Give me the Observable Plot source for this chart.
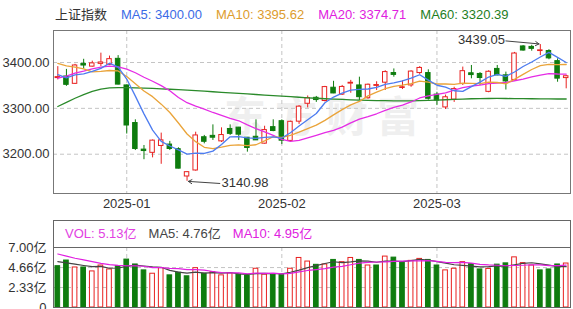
<!DOCTYPE html>
<html><head><meta charset="utf-8">
<script src="https://cdn.jsdelivr.net/npm/d3@7"></script>
<script src="https://cdn.jsdelivr.net/npm/@observablehq/plot@0.6"></script>
<style>
body{margin:0;background:#fff;font-family:"Liberation Sans",Arial,"Noto Sans CJK SC",sans-serif;}
#wrap{position:relative;width:573px;height:309px;overflow:hidden;background:#fff;}
#main{position:absolute;left:0;top:0;}
#vol{position:absolute;left:0;top:215px;}
#hdr{position:absolute;left:55px;top:7px;font-size:13px;line-height:16px;white-space:nowrap;}
#hdr span{margin-right:14px;}
#volbox{position:absolute;left:53px;top:220px;width:518px;height:28px;box-sizing:border-box;border:1px solid #666;font-size:13px;line-height:25px;padding-left:11px;white-space:nowrap;}
#volbox span{margin-right:12px;}
.wm text{letter-spacing:9px;}
</style></head>
<body><div id="wrap"><div id="main"></div><div id="vol"></div><div id="hdr"></div><div id="volbox"></div></div>
<script>
// ---- data ----
const indexName = "上证指数";
const dates = ["2024-12-20","2024-12-23","2024-12-24","2024-12-25","2024-12-26","2024-12-27","2024-12-30","2024-12-31",
"2025-01-02","2025-01-03","2025-01-06","2025-01-07","2025-01-08","2025-01-09","2025-01-10","2025-01-13","2025-01-14","2025-01-15","2025-01-16","2025-01-17","2025-01-20","2025-01-21","2025-01-22","2025-01-23","2025-01-24","2025-01-27",
"2025-02-05","2025-02-06","2025-02-07","2025-02-10","2025-02-11","2025-02-12","2025-02-13","2025-02-14","2025-02-17","2025-02-18","2025-02-19","2025-02-20","2025-02-21","2025-02-24","2025-02-25","2025-02-26","2025-02-27","2025-02-28",
"2025-03-03","2025-03-04","2025-03-05","2025-03-06","2025-03-07","2025-03-10","2025-03-11","2025-03-12","2025-03-13","2025-03-14","2025-03-17","2025-03-18","2025-03-19","2025-03-20","2025-03-21","2025-03-24"];
const open = [3366,3369.5,3353.5,3397,3391,3397,3395,3408,3350,3268,
3210,3203,3218,3221,3211,3151.4,3164.5,3237,3240,3228,
3255,3258,3236,3238,3223,3259,3272,3229,3271,3310,
3323,3316,3345,3330,3354,3350,3322,3349,3356,3377,
3344.5,3350,3377,3377,3330,3302,3319,3353,3376.5,3375,
3336,3386,3372,3362,3435,3434,3425,3425,3403,3366];
const high = [3391,3385,3396,3407,3403,3420.4,3414,3415,3351,3275,
3219,3231,3246,3228,3214,3162,3248,3241,3264,3257.5,
3264,3258.5,3236.5,3275,3261,3275,3275,3272,3306,3327,
3326,3348,3359,3350,3361,3368,3353,3358,3382,3386,
3360,3382,3391,3384,3335,3329,3346,3390,3393.5,3378,
3382,3393.5,3379,3422,3437,3437.5,3439.05,3428,3408,3372];
const low = [3362,3348,3352,3386,3390,3391,3394,3351,3244,3208,
3188,3192,3178,3208,3168,3140.98,3163,3222.6,3230,3225.5,
3241,3230,3204.5,3230,3222,3249,3221,3226,3265,3301,
3313,3314,3332,3328,3333,3317,3320,3339,3339,3368,
3341,3346,3374,3318,3306,3297.5,3313,3350,3364.4,3350,
3334,3371,3340,3360,3424.7,3424.7,3415,3406,3357,3342.6];
const close = [3368.1,3351.3,3393.5,3393.4,3398.1,3400.1,3407.3,3351.8,3262.6,3211.4,
3206.9,3229.6,3230.2,3211.4,3168.5,3160.8,3240.9,3227.1,3236.0,3241.8,
3244.4,3242.6,3213.6,3230.2,3252.6,3250.6,3229.5,3270.7,3303.7,3322.2,
3318.1,3346.4,3332.5,3346.7,3355.8,3324.5,3351.5,3350.8,3379.1,3373.0,
3346.0,3380.2,3388.1,3320.9,3316.9,3324.2,3342.0,3381.1,3372.6,3366.2,
3379.8,3371.9,3358.7,3419.6,3426.1,3429.8,3426.4,3409.0,3364.8,3370.0];
const prevClose = 3370.03;
const ma5 = [3373.6,3366.6,3373.0,3375.2,3380.9,3387.3,3398.5,3390.1,3364.0,3326.6,
3288.0,3252.5,3228.1,3217.9,3209.3,3200.1,3202.4,3201.7,3206.7,3221.3,
3238.0,3238.4,3235.7,3234.5,3236.7,3237.9,3235.3,3246.7,3261.4,3275.3,
3288.8,3312.2,3324.6,3333.2,3339.9,3341.2,3342.2,3345.9,3352.3,3355.8,
3360.1,3365.8,3373.3,3361.6,3350.4,3346.1,3338.4,3337.0,3347.4,3357.2,
3368.3,3374.3,3369.8,3379.2,3391.2,3401.2,3412.1,3422.2,3411.2,3400.0];
const ma10 = [3397.9,3392.8,3389.9,3386.0,3379.6,3380.5,3382.6,3381.6,3369.6,3353.8,
3337.7,3325.5,3309.2,3291.0,3268.0,3244.1,3227.4,3215.0,3212.3,3215.3,
3219.1,3220.4,3218.7,3220.6,3229.0,3238.0,3236.9,3241.2,3248.0,3256.0,
3263.4,3273.8,3285.7,3297.3,3307.6,3315.0,3327.2,3335.2,3342.8,3347.9,
3350.6,3354.0,3359.6,3357.0,3353.1,3353.1,3352.1,3355.2,3354.5,3353.8,
3357.2,3356.4,3353.4,3363.3,3374.2,3384.8,3393.2,3396.0,3395.2,3395.6];
const ma20 = [3365.8,3370.1,3376.8,3381.0,3386.1,3389.8,3392.0,3390.6,3385.5,3377.6,
3367.8,3359.1,3349.5,3338.5,3323.8,3312.3,3305.0,3298.3,3291.0,3284.5,
3278.4,3272.9,3263.9,3255.8,3248.5,3241.0,3232.1,3228.1,3230.1,3235.7,
3241.2,3247.1,3252.2,3259.0,3268.3,3276.5,3282.0,3288.2,3295.4,3301.9,
3307.0,3313.9,3322.6,3327.2,3330.4,3334.0,3339.7,3345.2,3348.6,3350.8,
3353.9,3355.2,3356.5,3360.2,3363.7,3368.9,3372.7,3375.6,3374.9,3374.7];
const ma60 = [3304,3313,3322,3330,3337,3342,3344.5,3345.3,3345.2,3344.8,
3344.2,3343.5,3342.6,3341.7,3340.7,3339.7,3338.6,3337.4,3336.2,3335,
3333.8,3332.6,3331.4,3330.2,3329,3327.8,3326.6,3325.4,3324.2,3323,
3322,3321,3320.2,3319.4,3318.7,3318,3317.5,3317,3316.7,3316.5,
3316.4,3316.5,3316.8,3317.3,3318,3318.8,3319.6,3320.3,3320.9,3321.3,
3321.5,3321.6,3321.5,3321.3,3321.1,3320.9,3320.7,3320.5,3320.4,3320.4];
const volume = [4.82,5.48,4.67,4.67,4.21,4.90,4.44,4.82,5.59,5.02,
4.33,3.94,4.59,3.75,4.06,3.64,4.59,3.94,4.13,3.75,
3.98,3.83,3.68,4.52,3.83,3.83,3.83,4.52,5.78,5.36,
4.98,5.02,5.55,5.29,5.78,5.55,4.90,4.90,5.94,5.82,
5.21,5.44,5.67,5.55,4.90,4.33,4.52,5.29,5.06,4.44,
4.50,5.00,5.15,5.85,5.18,4.90,4.33,4.44,5.02,5.13];
const volMa5 = [5.36,5.20,5.05,4.90,4.77,4.79,4.58,4.61,4.79,4.95,
4.84,4.74,4.69,4.33,4.13,4.00,4.13,4.00,4.07,4.01,
4.08,3.93,3.87,3.95,3.97,3.94,3.94,4.11,4.36,4.66,
4.89,5.13,5.34,5.24,5.32,5.44,5.41,5.28,5.41,5.42,
5.35,5.46,5.62,5.54,5.35,5.18,4.99,4.92,4.82,4.73,
4.76,4.86,4.83,4.99,5.14,5.22,5.08,4.94,4.77,4.76];
const volMa10 = [6.24,6.00,5.75,5.55,5.35,5.15,5.00,4.92,4.87,4.86,
4.81,4.66,4.65,4.56,4.54,4.42,4.43,4.35,4.20,4.07,
4.04,4.03,3.94,4.01,3.99,4.01,3.93,3.99,4.16,4.32,
4.42,4.54,4.72,4.80,4.99,5.17,5.27,5.31,5.33,5.37,
5.40,5.44,5.45,5.48,5.39,5.27,5.23,5.27,5.18,5.04,
4.97,4.93,4.87,4.90,4.93,4.99,4.97,4.89,4.88,4.95];
const priceTicks = [3200, 3300, 3400];
const volTicks = [0, 2.33, 4.66, 7.00];
const legendNames = ["MA5", "MA10", "MA20", "MA60"];
const legendValues = ["3400.00", "3395.62", "3374.71", "3320.39"];
const volLegendNames = ["VOL", "MA5", "MA10"];
const volLegendValues = ["5.13亿", "4.76亿", "4.95亿"];
const watermark = "东方财富";

// ---- styling ----
const RED = "#e8201f", GREEN = "#0e7c0e";
const maColors = ["#4d7cf0", "#eaa43a", "#e52ce5", "#2a8a2a"];
const maText = ["#3b6be6", "#dd9c2c", "#e020e0", "#1e7e1e"];
const volColors = ["#e23fe2", "#444", "#e020e0"];
const grid = {stroke: "#c4c4c4", strokeDasharray: "4,3"};
const font = '"Liberation Sans", Arial, "Noto Sans CJK SC", sans-serif';

const n = dates.length;
const xDomain = [-0.5, n - 0.5];
const candles = dates.map((d, i) => ({i, o: open[i], h: high[i], l: low[i], c: close[i], up: close[i] >= open[i]}));
const vols = dates.map((d, i) => ({i, v: volume[i], up: close[i] >= (i ? close[i - 1] : prevClose)}));
const monthTicks = d3.range(1, n).filter(i => dates[i].slice(0, 7) !== dates[i - 1].slice(0, 7));
const lowI = d3.minIndex(low), highI = d3.maxIndex(high);

const mainPlot = Plot.plot({
  width: 573, height: 212,
  marginTop: 30, marginBottom: 19, marginLeft: 53, marginRight: 3,
  style: {fontFamily: font, fontSize: "13px", color: "#333", background: "transparent", overflow: "visible"},
  x: {domain: xDomain, ticks: monthTicks, tickFormat: i => dates[i].slice(0, 7), tickSize: 0, tickPadding: 5, label: null},
  y: {domain: [3114.3, 3469.8], ticks: priceTicks, tickFormat: d3.format(".2f"), tickSize: 0, tickPadding: 4, label: null},
  marks: [
    Plot.text([watermark], {text: d => d, frameAnchor: "middle", dx: 14, dy: 7, fontSize: 42, fontWeight: "bold", fill: "#efefef", className: "wm"}),
    Plot.ruleY(priceTicks, grid),
    Plot.ruleX(monthTicks, grid),
    Plot.ruleX(candles, {x: "i", y1: "l", y2: "h", stroke: d => d.up ? RED : GREEN, strokeWidth: 1}),
    Plot.rect(candles, {
      x1: d => d.i - 0.26, x2: d => d.i + 0.26,
      y1: d => Math.min(d.o, d.c), y2: d => Math.max(d.o, d.c, Math.min(d.o, d.c) + 1.5),
      fill: d => d.up ? "#ffffff" : GREEN, stroke: d => d.up ? RED : GREEN, strokeWidth: 1
    }),
    Plot.lineY(ma60, {stroke: maColors[3], strokeWidth: 1.3}),
    Plot.lineY(ma20, {stroke: maColors[2], strokeWidth: 1.3}),
    Plot.lineY(ma10, {stroke: maColors[1], strokeWidth: 1.3}),
    Plot.lineY(ma5, {stroke: maColors[0], strokeWidth: 1.3}),
    Plot.frame({stroke: "#777"}),
    Plot.arrow([lowI], {x1: i => i + 3.8, y1: i => low[i] - 4.8, x2: i => i + 0.15, y2: i => low[i] - 0.3, stroke: "#444", strokeWidth: 1, headLength: 6}),
    Plot.text([lowI], {x: i => i + 4.0, y: i => low[i] - 4.3, text: i => low[i].toFixed(2), textAnchor: "start", fill: "#333", fontSize: 13}),
    Plot.arrow([highI], {x1: i => i - 4.0, y1: i => high[i] + 8, x2: i => i - 0.15, y2: i => high[i] + 1.5, stroke: "#444", strokeWidth: 1, headLength: 6}),
    Plot.text([highI], {x: i => i - 4.1, y: i => high[i] + 10.5, text: i => high[i].toFixed(2), textAnchor: "end", fill: "#333", fontSize: 13})
  ]
});
document.getElementById("main").appendChild(mainPlot);

const volPlot = Plot.plot({
  width: 573, height: 94,
  marginTop: 32, marginBottom: 2, marginLeft: 53, marginRight: 3,
  style: {fontFamily: font, fontSize: "13px", color: "#333", background: "transparent", overflow: "visible"},
  x: {domain: xDomain, axis: null},
  y: {domain: [0, 7], ticks: volTicks, tickFormat: v => v === 0 ? "0" : v.toFixed(2) + "亿", tickSize: 0, tickPadding: 7, label: null},
  marks: [
    Plot.ruleY(volTicks.filter(v => v > 0 && v < 7), grid),
    Plot.ruleX(monthTicks, grid),
    Plot.rect(vols, {
      x1: d => d.i - 0.27, x2: d => d.i + 0.27, y1: () => 0, y2: d => d.v,
      fill: d => d.up ? "#ffffff" : GREEN, stroke: d => d.up ? RED : GREEN, strokeWidth: 1
    }),
    Plot.lineY(volMa5, {stroke: volColors[1], strokeWidth: 1.2}),
    Plot.lineY(volMa10, {stroke: volColors[2], strokeWidth: 1.2}),
    Plot.frame({stroke: "#666"})
  ]
});
document.getElementById("vol").appendChild(volPlot);

// header legends
const hdr = d3.select("#hdr");
hdr.append("span").style("color", "#333").text(indexName);
legendNames.forEach((nm, k) => hdr.append("span").style("color", maText[k]).text(nm + ": " + legendValues[k]));
const vb = d3.select("#volbox");
volLegendNames.forEach((nm, k) => vb.append("span").style("color", volColors[k]).text(nm + ": " + volLegendValues[k]));
</script></body></html>
